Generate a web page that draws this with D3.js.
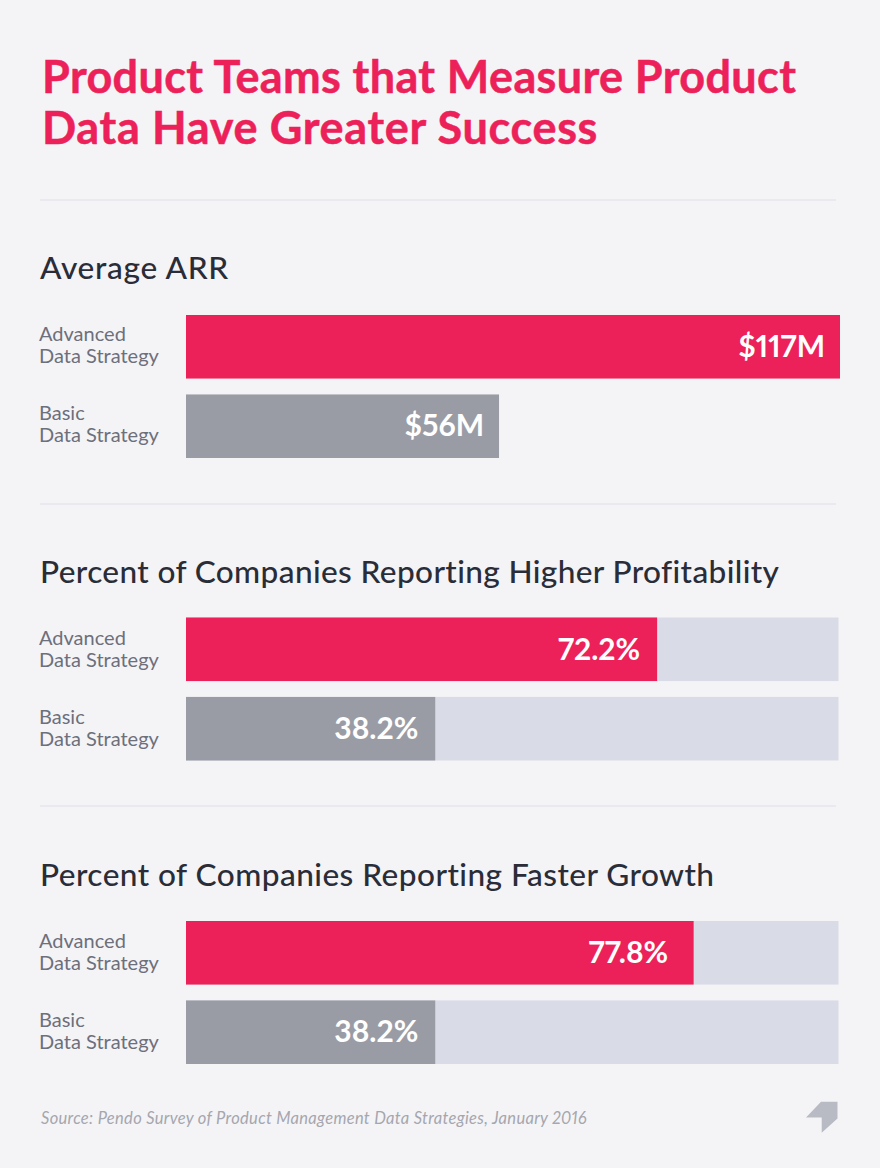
<!DOCTYPE html>
<html>
<head>
<meta charset="utf-8">
<script src="https://cdn.jsdelivr.net/npm/d3@7"></script>
<style>
  html, body { margin: 0; padding: 0; background: #f4f4f7; }
  svg { display: block; }
  text { font-family: Lato, "Open Sans", sans-serif; font-variant-numeric: proportional-nums; }
</style>
</head>
<body>
<svg width="880" height="1168"></svg>
<script>
const TITLE_LINES = ["Product Teams that Measure Product", "Data Have Greater Success"];
const PANEL_TITLES = ["Average ARR", "Percent of Companies Reporting Higher Profitability", "Percent of Companies Reporting Faster Growth"];
const CATEGORIES = ["Advanced", "Basic"];
const ARR_VALUES = [117, 56];
const PROFIT_VALUES = [72.2, 38.2];
const GROWTH_VALUES = [77.8, 38.2];
const SOURCE = "Source: Pendo Survey of Product Management Data Strategies, January 2016";

const PINK = "#ed2159", GREY = "#9a9ca5", TRACK = "#d9dce6", RULE = "#e6e7ec";

var svg = d3.select("svg");

svg.append("rect").attr("width", 880).attr("height", 1168).attr("fill", "#f4f4f7");

svg.selectAll(".title")
   .data(TITLE_LINES)
   .enter().append("text")
   .attr("class", "title")
   .attr("x", 42)
   .attr("y", function(d, i) { return 93 + i * 51; })
   .attr("fill", PINK)
   .attr("font-size", "45px")
   .attr("font-weight", 700)
   .attr("letter-spacing", function(d, i) { return i == 0 ? "0.38px" : "0.67px"; })
   .attr("stroke", PINK)
   .attr("stroke-width", 0.5)
   .text(function(d) { return d; });

// one scale for dollars, one for percents (percent bars have a 100% track)
var arrScale = d3.scaleLinear().domain([0, 117]).range([186, 840]);
var pctScale = d3.scaleLinear().domain([0, 100]).range([186, 838.5]);

var panels = [
    { title: PANEL_TITLES[0], values: ARR_VALUES, x: arrScale, format: function(d) { return "$" + d + "M"; }, track: false, top: 315, titleY: 279, labelY: 26, rule: 200, spacing: 0.7, insets: [15, 15] },
    { title: PANEL_TITLES[1], values: PROFIT_VALUES, x: pctScale, format: function(d) { return d.toFixed(1) + "%"; }, track: true, top: 617.5, titleY: 582.5, labelY: 27.5, rule: 504, spacing: 0.37, insets: [17, 17] },
    { title: PANEL_TITLES[2], values: GROWTH_VALUES, x: pctScale, format: function(d) { return d.toFixed(1) + "%"; }, track: true, top: 921, titleY: 886, labelY: 26.5, rule: 806, spacing: 0.45, insets: [25.5, 17] }
];

panels.forEach(function(p) {
    var y = d3.scaleBand().domain(CATEGORIES).range([p.top, p.top + 143]).paddingInner(0.2);
    var rows = CATEGORIES.map(function(c, i) { return { cat: c, value: p.values[i], inset: p.insets[i] }; });

    svg.append("line")
       .attr("x1", 40).attr("x2", 836)
       .attr("y1", p.rule).attr("y2", p.rule)
       .attr("stroke", RULE).attr("stroke-width", 1.5);

    svg.append("text")
       .attr("x", 40)
       .attr("y", p.titleY)
       .attr("fill", "#2a2d37")
       .attr("font-size", "31.6px")
       .attr("font-weight", 500)
       .attr("letter-spacing", p.spacing + "px")
       .text(p.title);

    if (p.track) {
        svg.selectAll(null)
           .data(rows)
           .enter().append("rect")
           .attr("x", p.x(0))
           .attr("y", function(d) { return y(d.cat); })
           .attr("width", p.x(100) - p.x(0))
           .attr("height", y.bandwidth())
           .attr("fill", TRACK);
    }

    svg.selectAll(null)
       .data(rows)
       .enter().append("rect")
       .attr("x", p.x(0))
       .attr("y", function(d) { return y(d.cat); })
       .attr("width", function(d) { return p.x(d.value) - p.x(0); })
       .attr("height", y.bandwidth())
       .attr("fill", function(d, i) { return i == 0 ? PINK : GREY; });

    var labels = svg.selectAll(null)
       .data(rows)
       .enter().append("text")
       .attr("fill", "#6d6f7b")
       .attr("font-size", "20px");
    labels.append("tspan")
       .attr("x", 39)
       .attr("y", function(d) { return y(d.cat) + p.labelY; })
       .text(function(d) { return d.cat; });
    labels.append("tspan")
       .attr("x", 39)
       .attr("y", function(d) { return y(d.cat) + p.labelY + 22; })
       .text("Data Strategy");

    svg.selectAll(null)
       .data(rows)
       .enter().append("text")
       .attr("x", function(d) { return p.x(d.value) - d.inset; })
       .attr("y", function(d) { return y(d.cat) + 42; })
       .attr("text-anchor", "end")
       .attr("fill", "#fff")
       .attr("font-size", "30px")
       .attr("font-weight", 700)
       .text(function(d) { return p.format(d.value); });
});

svg.append("text")
   .attr("x", 41)
   .attr("y", 1124)
   .attr("fill", "#a5a6ae")
   .attr("font-size", "16.5px")
   .attr("letter-spacing", "0.31px")
   .attr("font-style", "italic")
   .text(SOURCE);

// logo mark, bottom right
svg.append("path")
   .attr("d", "M806 1117.5L821 1101.7H837.5V1118.5L821.7 1132.7V1117.5Z")
   .attr("fill", "#b8bbc4");
</script>
</body>
</html>
